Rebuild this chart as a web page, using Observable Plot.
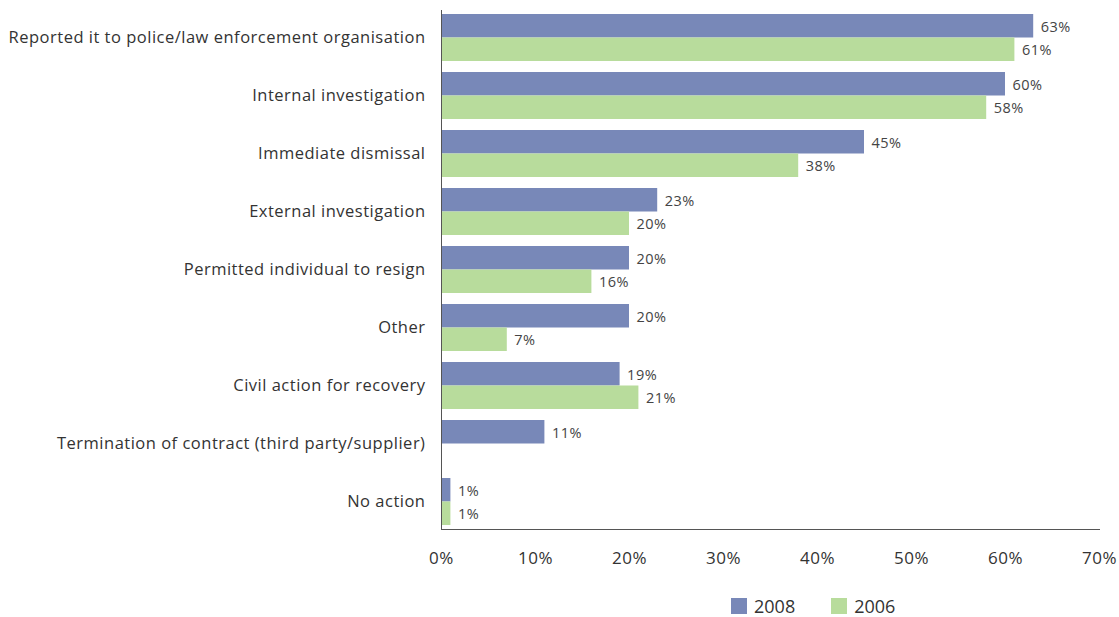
<!DOCTYPE html>
<html>
<head>
<meta charset="utf-8">
<script src="https://cdn.jsdelivr.net/npm/d3@7"></script>
<script src="https://cdn.jsdelivr.net/npm/@observablehq/plot@0.6"></script>
<style>
  body { margin: 0; background: #fff; font-family: "Open Sans", Arial, sans-serif; }
  #chart { width: 1119px; }
  #legend { display: flex; margin-left: 731px; margin-top: 14px; align-items: center; font-size: 18px; color: #333; }
  .item { display: flex; align-items: center; margin-right: 36px; }
  .sw { width: 16px; height: 16px; margin-right: 7px; }
</style>
</head>
<body>
<div id="chart"></div>
<script>
const categories = [
  "Reported it to police/law enforcement organisation",
  "Internal investigation",
  "Immediate dismissal",
  "External investigation",
  "Permitted individual to resign",
  "Other",
  "Civil action for recovery",
  "Termination of contract (third party/supplier)",
  "No action"
];
const values2008 = [63, 60, 45, 23, 20, 20, 19, 11, 1];
const values2006 = [61, 58, 38, 20, 16, 7, 21, null, 1];
const seriesNames = ["2008", "2006"];
const seriesColors = ["#7888b8", "#b8dc9c"];
const xTicks = [0, 10, 20, 30, 40, 50, 60, 70];

const rows = categories.map((c, i) => ({cat: c, v2008: values2008[i], v2006: values2006[i]}));
const rows2006 = rows.filter(d => d.v2006 != null);

const plot = Plot.plot({
  width: 1119,
  height: 580,
  marginTop: 10,
  marginBottom: 51,
  marginLeft: 441,
  marginRight: 20,
  style: {fontFamily: "'Open Sans', Arial, sans-serif", color: "#333", background: "#fff", letterSpacing: "0.5px"},
  x: {domain: [0, 70]},
  y: {domain: categories, paddingInner: 0.19, paddingOuter: 0.069},
  marks: [
    Plot.barX(rows, {x: "v2008", y: "cat", fill: seriesColors[0], insetBottom: 23.5}),
    Plot.barX(rows2006, {x: "v2006", y: "cat", fill: seriesColors[1], insetTop: 23.5}),
    Plot.text(rows, {x: "v2008", y: "cat", text: d => d.v2008 + "%", dy: -11, dx: 7, textAnchor: "start", fontSize: 14.5, fill: "#444"}),
    Plot.text(rows2006, {x: "v2006", y: "cat", text: d => d.v2006 + "%", dy: 12, dx: 7, textAnchor: "start", fontSize: 14.5, fill: "#444"}),
    Plot.ruleX([0], {stroke: "#555"}),
    Plot.frame({anchor: "bottom", stroke: "#555"}),
    Plot.axisY({tickSize: 0, tickPadding: 16, fontSize: 16.5, label: null}),
    Plot.axisX({ticks: xTicks, tickFormat: d => d + "%", tickSize: 0, tickPadding: 22, fontSize: 17, label: null})
  ]
});
document.getElementById("chart").appendChild(plot);

const legend = document.createElement("div");
legend.id = "legend";
seriesNames.forEach((n, i) => {
  const it = document.createElement("div");
  it.className = "item";
  const sw = document.createElement("div");
  sw.className = "sw";
  sw.style.background = seriesColors[i];
  const t = document.createElement("span");
  t.textContent = n;
  it.appendChild(sw); it.appendChild(t);
  legend.appendChild(it);
});
document.getElementById("chart").appendChild(legend);
</script>
</body>
</html>
